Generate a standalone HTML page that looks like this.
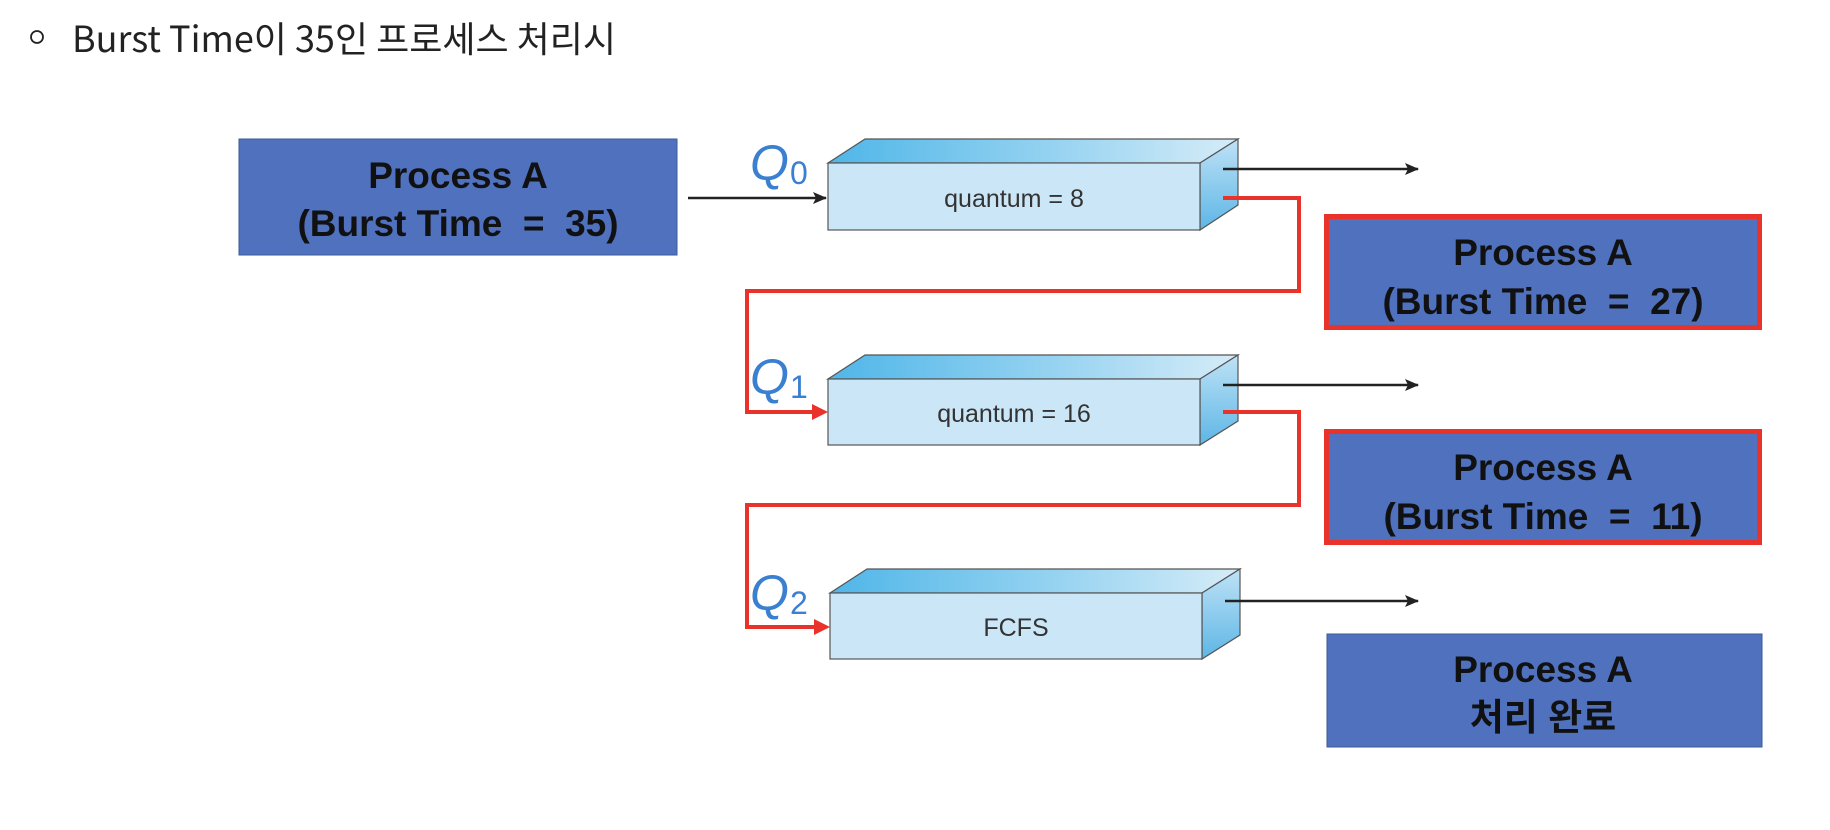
<!DOCTYPE html>
<html><head><meta charset="utf-8"><style>
html,body{margin:0;padding:0;background:#fff;width:1830px;height:830px;overflow:hidden}
</style></head><body>
<svg width="1830" height="830" viewBox="0 0 1830 830" xmlns="http://www.w3.org/2000/svg">
<defs>
<linearGradient id="top" x1="0" y1="0" x2="1" y2="0">
<stop offset="0" stop-color="#4fb6e8"/><stop offset="0.5" stop-color="#8fd0f0"/><stop offset="1" stop-color="#d6ecf8"/>
</linearGradient>
<linearGradient id="side" x1="0" y1="0" x2="0" y2="1">
<stop offset="0" stop-color="#bfe2f6"/><stop offset="1" stop-color="#5db6e6"/>
</linearGradient>
<marker id="ab" markerWidth="14" markerHeight="12" refX="13" refY="6" orient="auto" markerUnits="userSpaceOnUse">
<path d="M0,0 L14,6 L0,12 L3,6 Z" fill="#222"/></marker>
</defs>

<circle cx="37" cy="37" r="6" fill="none" stroke="#222" stroke-width="1.8"/>
<text x="72" y="52" font-family="'Noto Sans CJK KR','Liberation Sans',sans-serif" font-size="36" fill="#222">Burst Time이 35인 프로세스 처리시</text>

<!-- Box 1 -->
<rect x="239" y="139" width="438" height="116" fill="#4f71be" stroke="#3d5a9a" stroke-width="1"/>
<g font-family="'Liberation Sans','Noto Sans CJK KR',sans-serif" font-weight="bold" font-size="37" fill="#111" text-anchor="middle">
<text x="458" y="188">Process A</text>
<text x="458" y="236">(Burst Time&#160;&#160;=&#160;&#160;35)</text>
</g>

<!-- Queues -->
<g font-family="'Liberation Sans',sans-serif">
<g>
<polygon points="828,163 865,139 1238,139 1200,163" fill="url(#top)" stroke="#555" stroke-width="1.2"/>
<polygon points="1200,163 1238,139 1238,205 1200,230" fill="url(#side)" stroke="#555" stroke-width="1.2"/>
<rect x="828" y="163" width="372" height="67" fill="#cbe6f7" stroke="#555" stroke-width="1.2"/>
<text x="1014" y="207" font-size="25" fill="#333" text-anchor="middle">quantum = 8</text>
</g>
<g>
<polygon points="828,379 865,355 1238,355 1200,379" fill="url(#top)" stroke="#555" stroke-width="1.2"/>
<polygon points="1200,379 1238,355 1238,421 1200,445" fill="url(#side)" stroke="#555" stroke-width="1.2"/>
<rect x="828" y="379" width="372" height="66" fill="#cbe6f7" stroke="#555" stroke-width="1.2"/>
<text x="1014" y="422" font-size="25" fill="#333" text-anchor="middle">quantum = 16</text>
</g>
<g>
<polygon points="830,593 867,569 1240,569 1202,593" fill="url(#top)" stroke="#555" stroke-width="1.2"/>
<polygon points="1202,593 1240,569 1240,635 1202,659" fill="url(#side)" stroke="#555" stroke-width="1.2"/>
<rect x="830" y="593" width="372" height="66" fill="#cbe6f7" stroke="#555" stroke-width="1.2"/>
<text x="1016" y="636" font-size="25" fill="#333" text-anchor="middle">FCFS</text>
</g>
<g fill="#3a7fd0" font-style="italic">
<text x="750" y="180" font-size="50">Q</text><text x="790" y="184" font-size="32" font-style="normal">0</text>
<text x="750" y="394" font-size="50">Q</text><text x="790" y="398" font-size="32" font-style="normal">1</text>
<text x="750" y="610" font-size="50">Q</text><text x="790" y="614" font-size="32" font-style="normal">2</text>
</g>
</g>

<!-- black arrows -->
<g stroke="#222" stroke-width="2.5" fill="none">
<line x1="688" y1="198" x2="826" y2="198" marker-end="url(#ab)"/>
<line x1="1223" y1="169" x2="1418" y2="169" marker-end="url(#ab)"/>
<line x1="1223" y1="385" x2="1418" y2="385" marker-end="url(#ab)"/>
<line x1="1225" y1="601" x2="1418" y2="601" marker-end="url(#ab)"/>
</g>
<!-- red paths -->
<g stroke="#e8322a" stroke-width="4" fill="none">
<polyline points="1223,198 1299,198 1299,291 747,291 747,412 814,412" />
<polyline points="1223,412 1299,412 1299,505 747,505 747,627 816,627" />
</g>
<path d="M812,404 L828,412 L812,420 Z" fill="#e8322a"/>
<path d="M814,619 L830,627 L814,635 Z" fill="#e8322a"/>

<!-- Right boxes -->
<g font-family="'Liberation Sans','Noto Sans CJK KR',sans-serif" font-weight="bold" font-size="37" fill="#111" text-anchor="middle">
<rect x="1326.5" y="216.5" width="433" height="111" fill="#4f71be" stroke="#e8322a" stroke-width="5"/>
<text x="1543" y="265">Process A</text>
<text x="1543" y="314">(Burst Time&#160;&#160;=&#160;&#160;27)</text>
<rect x="1326.5" y="431.5" width="433" height="111" fill="#4f71be" stroke="#e8322a" stroke-width="5"/>
<text x="1543" y="480">Process A</text>
<text x="1543" y="529">(Burst Time&#160;&#160;=&#160;&#160;11)</text>
<rect x="1327" y="634" width="435" height="113" fill="#4f71be" stroke="#3d5a9a" stroke-width="1"/>
<text x="1543" y="682">Process A</text>
<text x="1543" y="730">처리 완료</text>
</g>
</svg>
</body></html>
